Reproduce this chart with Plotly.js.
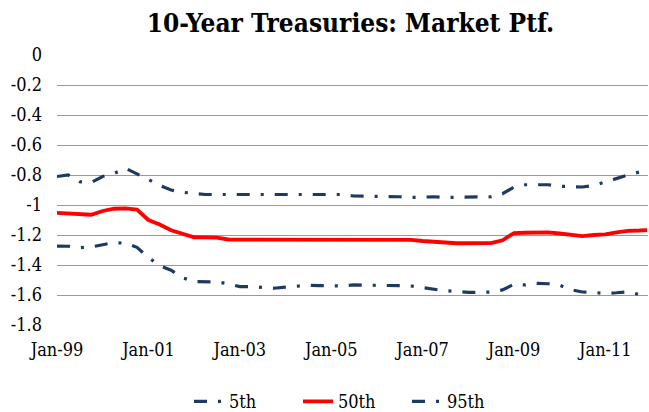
<!DOCTYPE html>
<html>
<head>
<meta charset="utf-8">
<script src="https://cdn.plot.ly/plotly-3.0.1.min.js"></script>
<style>html,body{margin:0;padding:0;background:#fff}#chart{width:649px;height:412px}</style>
</head>
<body>
<div id="chart"></div>
<script>
const dates = [
 "1999-01-01","1999-04-01","1999-07-01","1999-10-01",
 "2000-01-01","2000-04-01","2000-07-01","2000-10-01",
 "2001-01-01","2001-04-01","2001-07-01","2001-10-01",
 "2002-01-01","2002-04-01","2002-07-01","2002-10-01",
 "2003-01-01","2003-04-01","2003-07-01","2003-10-01",
 "2004-01-01","2004-04-01","2004-07-01","2004-10-01",
 "2005-01-01","2005-04-01","2005-07-01","2005-10-01",
 "2006-01-01","2006-04-01","2006-07-01","2006-10-01",
 "2007-01-01","2007-04-01","2007-07-01","2007-10-01",
 "2008-01-01","2008-04-01","2008-07-01","2008-10-01",
 "2009-01-01","2009-04-01","2009-07-01","2009-10-01",
 "2010-01-01","2010-04-01","2010-07-01","2010-10-01",
 "2011-01-01","2011-04-01","2011-07-01","2011-10-01","2011-12-01"
];
const p5 = [
 -1.274,-1.275,-1.284,-1.280,
 -1.265,-1.250,-1.255,-1.282,
 -1.350,-1.405,-1.435,-1.485,
 -1.510,-1.512,-1.513,-1.525,
 -1.544,-1.544,-1.550,-1.555,
 -1.548,-1.542,-1.535,-1.537,
 -1.540,-1.540,-1.533,-1.533,
 -1.533,-1.533,-1.538,-1.540,
 -1.550,-1.565,-1.572,-1.575,
 -1.583,-1.583,-1.580,-1.566,
 -1.528,-1.533,-1.522,-1.525,
 -1.535,-1.565,-1.580,-1.583,
 -1.590,-1.585,-1.578,-1.597,-1.605
];
const p50 = [
 -1.052,-1.055,-1.057,-1.065,
 -1.040,-1.025,-1.022,-1.030,
 -1.100,-1.130,-1.168,-1.190,
 -1.215,-1.216,-1.218,-1.230,
 -1.230,-1.230,-1.230,-1.230,
 -1.230,-1.230,-1.230,-1.230,
 -1.230,-1.230,-1.230,-1.230,
 -1.230,-1.230,-1.230,-1.232,
 -1.240,-1.242,-1.250,-1.255,
 -1.256,-1.256,-1.254,-1.235,
 -1.187,-1.185,-1.185,-1.183,
 -1.190,-1.200,-1.207,-1.200,
 -1.196,-1.182,-1.172,-1.170,-1.167
];
const p95 = [
 -0.810,-0.800,-0.845,-0.850,
 -0.810,-0.790,-0.755,-0.790,
 -0.830,-0.870,-0.900,-0.915,
 -0.925,-0.930,-0.930,-0.930,
 -0.930,-0.930,-0.930,-0.930,
 -0.930,-0.930,-0.930,-0.930,
 -0.930,-0.930,-0.940,-0.940,
 -0.945,-0.945,-0.945,-0.950,
 -0.945,-0.945,-0.950,-0.950,
 -0.950,-0.950,-0.945,-0.925,
 -0.880,-0.865,-0.865,-0.865,
 -0.875,-0.880,-0.880,-0.870,
 -0.845,-0.820,-0.800,-0.780,-0.770
];
const seriesNames = ["5th","50th","95th"];
const tickDates = ["1999-01-01","2001-01-01","2003-01-01","2005-01-01","2007-01-01","2009-01-01","2011-01-01"];
const tickLabels = ["Jan-99","Jan-01","Jan-03","Jan-05","Jan-07","Jan-09","Jan-11"];
const yTicks = [0,-0.2,-0.4,-0.6,-0.8,-1,-1.2,-1.4,-1.6,-1.8];
const yTickLabels = ["0","-0.2","-0.4","-0.6","-0.8","-1","-1.2","-1.4","-1.6","-1.8"];

const navy = "#1f3a60";
const dashDot = "13px,11px,3px,11px";
const fontFam = "'DejaVu Serif Condensed','DejaVu Serif',serif";

const traces = [
 {x: dates, y: p5, name: seriesNames[0], mode: "lines", line: {color: navy, width: 3.2, dash: dashDot}},
 {x: dates, y: p50, name: seriesNames[1], mode: "lines", line: {color: "#ff0000", width: 3.8}},
 {x: dates, y: p95, name: seriesNames[2], mode: "lines", line: {color: navy, width: 3.2, dash: dashDot}}
];

const layout = {
 width: 649, height: 412,
 margin: {l: 57, r: 1, t: 55, b: 87},
 paper_bgcolor: "#fff", plot_bgcolor: "#fff",
 title: {text: "<b>10-Year Treasuries: Market Ptf.</b>", x: 0.54, xanchor: "center", y: 0.945, yanchor: "middle",
   font: {family: fontFam, size: 26, color: "#000"}},
 xaxis: {type: "date", range: ["1999-01-01", "2011-12-08"], tickmode: "array", tickvals: tickDates, ticktext: tickLabels,
   showgrid: false, zeroline: false, showline: false, ticks: "", ticklabelstandoff: 12,
   tickfont: {family: fontFam, size: 18, color: "#000"}},
 yaxis: {range: [-1.8, 0], tickmode: "array", tickvals: yTicks, ticktext: yTickLabels,
   showgrid: true, gridcolor: "#9a9a9a", gridwidth: 1, zeroline: false, showline: false, ticks: "",
   ticklabelstandoff: 14, tickfont: {family: fontFam, size: 18, color: "#000"}},
 showlegend: true,
 legend: {orientation: "h", x: 0.5, xanchor: "center", xref: "paper", yref: "container", y: 0.025, yanchor: "middle",
   font: {family: fontFam, size: 18, color: "#000"}, entrywidth: 64, entrywidthmode: "pixels", tracegroupgap: 0}
};

Plotly.newPlot("chart", traces, layout, {staticPlot: true, displayModeBar: false});
</script>
</body>
</html>
